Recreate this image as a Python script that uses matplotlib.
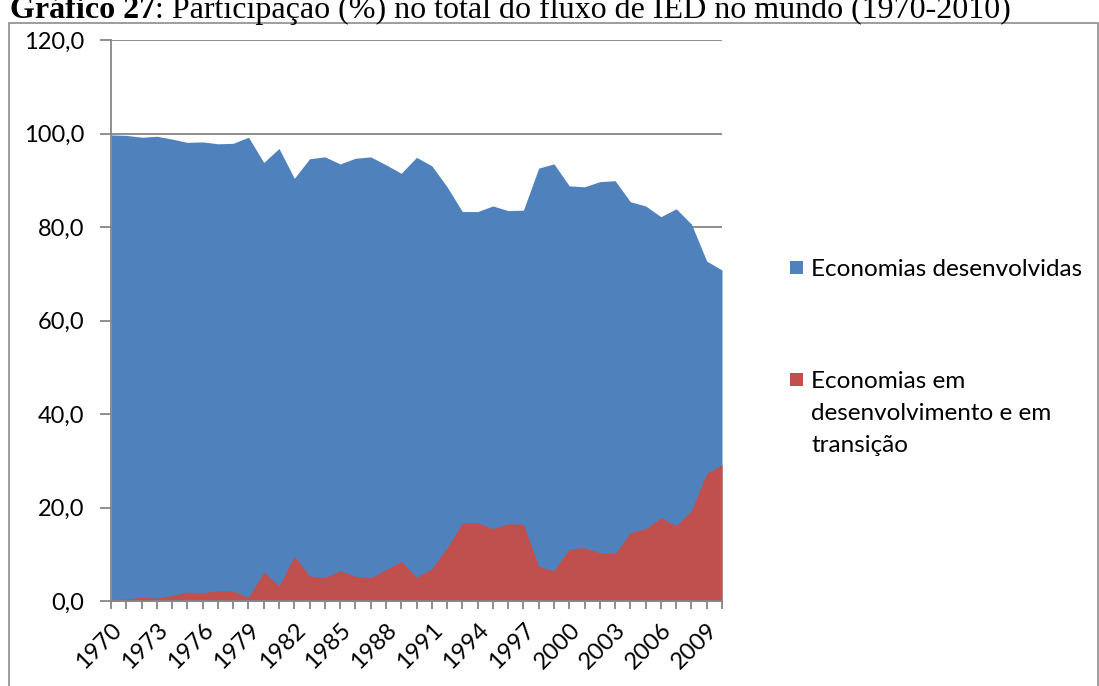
import matplotlib
matplotlib.use("Agg")
import matplotlib.pyplot as plt
from matplotlib.patches import Rectangle
import numpy as np

years = list(range(1970, 2011))

# Share (%) of world FDI inflows
desenvolvidas = [99.7, 99.6, 99.2, 99.4, 98.8, 98.1, 98.2, 97.8, 97.9, 99.2,
                 93.8, 96.8, 90.4, 94.6, 95.0, 93.5, 94.7, 95.0, 93.3, 91.5,
                 94.9, 93.1, 88.6, 83.3, 83.3, 84.5, 83.5, 83.6, 92.6, 93.5,
                 88.8, 88.6, 89.7, 89.9, 85.4, 84.5, 82.2, 83.9, 80.6, 72.7,
                 70.8]
em_desenvolvimento = [0.3, 0.4, 0.8, 0.6, 1.2, 1.9, 1.8, 2.2, 2.1, 0.8,
                      6.2, 3.2, 9.6, 5.4, 5.0, 6.5, 5.3, 5.0, 6.7, 8.5,
                      5.1, 6.9, 11.4, 16.7, 16.7, 15.5, 16.5, 16.4, 7.4, 6.5,
                      11.2, 11.4, 10.3, 10.1, 14.6, 15.5, 17.8, 16.1, 19.4, 27.3,
                      29.2]

serie_labels = ["Economias desenvolvidas",
                "Economias em\ndesenvolvimento e em\ntransição"]
y_ticks = [0, 20, 40, 60, 80, 100, 120]
titulo_bold = "Gráfico 27"
titulo_resto = ": Participação (%) no total do fluxo de IED no mundo (1970-2010)"

BLUE = "#4F81BD"
RED = "#C0504D"
GRID = "#868686"
FONT = ["Lato", "DejaVu Sans"]

W, H = 1099, 686
fig = plt.figure(figsize=(W / 100, H / 100), dpi=100)
fig.patch.set_facecolor("white")

# outer frame around the chart
top_px = 23
frame = Rectangle((9 / W, -0.01), (W - 10) / W, (H - top_px) / H + 0.01,
                  transform=fig.transFigure, fill=False,
                  edgecolor="#8c8c8c", linewidth=1.2, clip_on=False)
fig.patches.append(frame)

# caption above the frame
base_y = 1 - 18 / H
t1 = fig.text(10 / W, base_y, titulo_bold, fontsize=23, fontweight="bold",
              family="Liberation Serif", va="baseline", ha="left")
fig.canvas.draw()
bb = t1.get_window_extent()
fig.text(bb.x1 / W, base_y, titulo_resto, fontsize=23,
         family="Liberation Serif", va="baseline", ha="left")

ax = fig.add_axes([111 / W, (H - 601) / H, (722 - 111) / W, (601 - 40) / H])
x = np.arange(len(years))

ax.fill_between(x, 0, desenvolvidas, color=BLUE, linewidth=0, zorder=2)
ax.fill_between(x, 0, em_desenvolvimento, color=RED, linewidth=0, zorder=3)

ax.set_xlim(0, len(years) - 1)
ax.set_ylim(0, 120)
ax.set_yticks(y_ticks)
ax.set_yticklabels([f"{v:.1f}".replace(".", ",") for v in y_ticks],
                   fontsize=17, family=FONT)
ax.yaxis.grid(True, color=GRID, linewidth=1.3, zorder=1)
ax.set_axisbelow(True)

ax.set_xticks(x)
ax.set_xticklabels([str(y) if (y - 1970) % 3 == 0 else "" for y in years],
                   rotation=45, ha="right", rotation_mode="anchor",
                   fontsize=17, family=FONT)

for side in ("top", "right"):
    ax.spines[side].set_visible(False)
for side in ("left", "bottom"):
    ax.spines[side].set_color(GRID)
    ax.spines[side].set_linewidth(1.3)
    ax.spines[side].set_zorder(4)
ax.tick_params(axis="y", direction="out", length=8, width=1.3, color=GRID, pad=11)
ax.tick_params(axis="x", direction="out", length=6, width=1.3, color=GRID, pad=7)

# legend: coloured squares with labels to the right
legend_items = [(BLUE, serie_labels[0], 267), (RED, serie_labels[1], 379)]
sq = 13
for color, label, yc in legend_items:
    fig.patches.append(Rectangle((790 / W, (H - yc - sq / 2) / H), sq / W, sq / H,
                                 transform=fig.transFigure, facecolor=color,
                                 edgecolor="none"))
    fig.text(811 / W, (H - yc) / H, label.split("\n")[0], fontsize=17.5,
             family=FONT, va="center_baseline", ha="left")
    for i, extra in enumerate(label.split("\n")[1:], start=1):
        fig.text(811 / W, (H - yc - 32 * i) / H, extra, fontsize=17.5,
                 family=FONT, va="center_baseline", ha="left")

fig.savefig("out.png", dpi=100)
